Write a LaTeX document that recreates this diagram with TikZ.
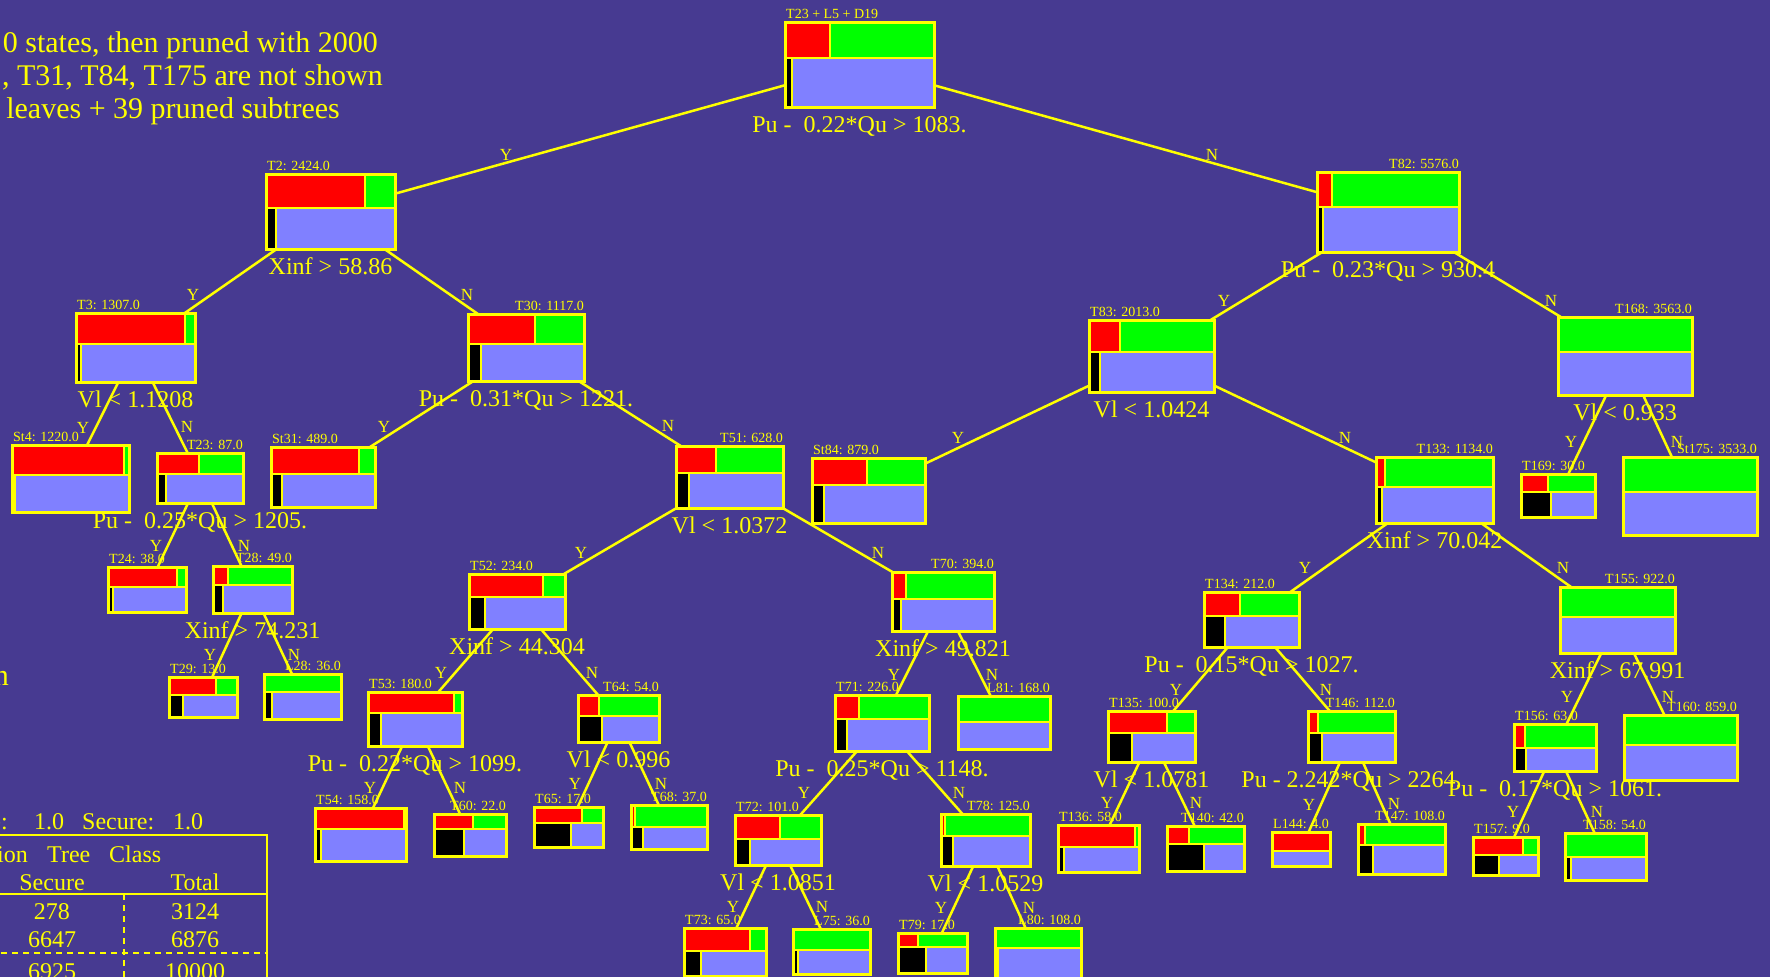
\documentclass[tikz,border=0pt]{standalone}
\usepackage{fontspec}
\setmainfont{Liberation Serif}
\definecolor{bg}{RGB}{71,58,145}
\definecolor{cyel}{RGB}{255,255,0}
\definecolor{cred}{RGB}{255,0,0}
\definecolor{cgreen}{RGB}{0,255,0}
\definecolor{clav}{RGB}{128,128,255}
\newcommand\condfont{\fontsize{24}{28}\selectfont}
\newcommand\ttlfont{\fontsize{14}{16}\selectfont}
\newcommand\ynfont{\fontsize{17}{20}\selectfont}
\newcommand\bigfont{\fontsize{30}{33}\selectfont}
% \treebox{name}{x1}{y1}{x2}{y2}{red share}{black share}{top row share}
\newcommand\treebox[8]{%
  \pgfmathsetmacro\tbw{#4-#2}%
  \pgfmathsetmacro\tbh{#5-#3}%
  \pgfmathsetmacro\tbys{#3+#8*\tbh}%
  \pgfmathsetmacro\tbxr{#2+#6*\tbw}%
  \pgfmathsetmacro\tbxb{#2+#7*\tbw}%
  \ifdim #6pt>0pt \draw[cell,fill=cred] (#2,#3) rectangle (\tbxr,\tbys);\fi
  \ifdim #6pt<1pt \draw[cell,fill=cgreen] (\tbxr,#3) rectangle (#4,\tbys);\fi
  \ifdim #7pt>0pt \draw[cell,fill=black] (#2,\tbys) rectangle (\tbxb,#5);\fi
  \draw[cell,fill=clav] (\tbxb,\tbys) rectangle (#4,#5);
  \node[frame,minimum width=\tbw pt,minimum height=\tbh pt] (#1) at ({(#2+#4)/2},{(#3+#5)/2}) {};
}
\begin{document}
\begin{tikzpicture}[x=1pt,y=-1pt,
  cell/.style={draw=cyel,line width=2pt},
  frame/.style={draw=cyel,line width=3pt,inner sep=0pt,outer sep=0pt,rectangle},
  edge/.style={draw=cyel,line width=2.5pt},
  ttlL/.style={font=\ttlfont,text=cyel,anchor=base west,inner sep=0pt,yshift=4pt,xshift=1pt},
  ttlR/.style={font=\ttlfont,text=cyel,anchor=base east,inner sep=0pt,yshift=4pt},
  cond/.style={font=\condfont,text=cyel,anchor=base,inner sep=0pt,yshift=-25pt},
  yn/.style={font=\ynfont,text=cyel,inner sep=0pt},
  txt/.style={font=\condfont,text=cyel,inner sep=0pt},
  big/.style={font=\bigfont,text=cyel,inner sep=0pt,anchor=base east},
  tline/.style={draw=cyel,line width=2.5pt},
  tdash/.style={draw=cyel,line width=2.5pt,dash pattern=on 6pt off 5pt}]
\useasboundingbox (0,0) rectangle (1770,977);
\fill[bg] (0,0) rectangle (1770,977);
\clip (0,0) rectangle (1770,977);

% heading text
\node[big] (h1) at (378,52) {0 states, then pruned with 2000};
\node[big] (h2) at (383,85) {, T31, T84, T175 are not shown};
\node[big] (h3) at (340,118) {leaves + 39 pruned subtrees};
\node[big] (h4) at (9,685) {n};

% summary table
\node[txt,anchor=base east] (s1) at (8,829) {e:};
\node[txt,anchor=base west] (s2) at (34,829) {1.0};
\node[txt,anchor=base west] (s3) at (82,829) {Secure:};
\node[txt,anchor=base west] (s4) at (173,829) {1.0};
\draw[tline] (-10,835) -- (267,835) -- (267,990);
\draw[tline] (-10,894) -- (267,894);
\draw[tdash] (-10,953) -- (267,953);
\draw[tdash] (124,894) -- (124,990);
\node[txt,anchor=base east] (c1) at (28,862) {ion};
\node[txt,anchor=base west] (c2) at (47,862) {Tree};
\node[txt,anchor=base west] (c3) at (109,862) {Class};
\node[txt,anchor=base] (c4) at (52,890) {Secure};
\node[txt,anchor=base] (c5) at (195,890) {Total};
\node[txt,anchor=base] (c6) at (52,919) {278};
\node[txt,anchor=base] (c7) at (195,919) {3124};
\node[txt,anchor=base] (c8) at (52,947) {6647};
\node[txt,anchor=base] (c9) at (195,947) {6876};
\node[txt,anchor=base] (c10) at (52,979) {6925};
\node[txt,anchor=base] (c11) at (195,979) {10000};

% tree boxes
\treebox{root}{785}{22}{934}{107}{0.30}{0.047}{0.42}
\treebox{T2}{266}{174}{395}{249}{0.77}{0.08}{0.45}
\treebox{T82}{1317}{172}{1459}{252}{0.105}{0.042}{0.44}
\treebox{T3}{76}{313}{195}{382}{0.92}{0.04}{0.45}
\treebox{T30}{468}{314}{584}{381}{0.58}{0.114}{0.45}
\treebox{T83}{1089}{320}{1214}{392}{0.25}{0.086}{0.44}
\treebox{T168}{1558}{317}{1692}{395}{0}{0}{0.45}
\treebox{St4}{12}{445}{129}{512}{0.957}{0.025}{0.45}
\treebox{T23}{157}{453}{243}{503}{0.49}{0.11}{0.42}
\treebox{St31}{271}{447}{375}{507}{0.85}{0.11}{0.45}
\treebox{T51}{676}{446}{783}{508}{0.37}{0.12}{0.43}
\treebox{St84}{812}{458}{925}{523}{0.485}{0.11}{0.42}
\treebox{T133}{1376}{457}{1493}{523}{0.08}{0.055}{0.45}
\treebox{T169}{1521}{474}{1595}{517}{0.37}{0.40}{0.42}
\treebox{St175}{1623}{457}{1757}{535}{0}{0}{0.45}
\treebox{T24}{108}{567}{186}{612}{0.88}{0.07}{0.44}
\treebox{T28}{213}{566}{292}{613}{0.19}{0.13}{0.40}
\treebox{T52}{469}{574}{565}{629}{0.77}{0.17}{0.42}
\treebox{T70}{892}{572}{994}{631}{0.14}{0.09}{0.46}
\treebox{T134}{1204}{592}{1299}{647}{0.38}{0.22}{0.44}
\treebox{T155}{1560}{587}{1675}{653}{0}{0}{0.45}
\treebox{T29}{169}{677}{237}{717}{0.69}{0.20}{0.45}
\treebox{L28}{264}{674}{341}{719}{0}{0.10}{0.40}
\treebox{T53}{368}{692}{462}{746}{0.91}{0.137}{0.39}
\treebox{T64}{578}{695}{659}{742}{0.26}{0.30}{0.45}
\treebox{T71}{835}{695}{929}{751}{0.26}{0.13}{0.43}
\treebox{L81}{958}{696}{1050}{749}{0}{0}{0.49}
\treebox{T135}{1108}{711}{1195}{762}{0.68}{0.28}{0.43}
\treebox{T146}{1308}{711}{1395}{762}{0.12}{0.165}{0.43}
\treebox{T156}{1514}{724}{1596}{771}{0.135}{0.15}{0.50}
\treebox{T160}{1624}{715}{1737}{780}{0}{0}{0.46}
\treebox{T54}{315}{808}{406}{861}{0.98}{0.07}{0.39}
\treebox{T60}{434}{814}{506}{856}{0.54}{0.41}{0.36}
\treebox{T65}{534}{807}{603}{847}{0.70}{0.54}{0.40}
\treebox{T68}{631}{805}{707}{849}{0.05}{0.16}{0.50}
\treebox{T72}{735}{815}{821}{865}{0.52}{0.17}{0.48}
\treebox{T78}{941}{814}{1030}{866}{0.04}{0.13}{0.42}
\treebox{T136}{1058}{825}{1139}{872}{0.95}{0.08}{0.47}
\treebox{T140}{1167}{826}{1244}{871}{0.29}{0.48}{0.40}
\treebox{L144}{1272}{832}{1330}{866}{1}{0}{0.55}
\treebox{T147}{1358}{824}{1445}{874}{0.08}{0.17}{0.42}
\treebox{T157}{1473}{837}{1538}{875}{0.77}{0.40}{0.47}
\treebox{T158}{1565}{833}{1646}{880}{0}{0.08}{0.50}
\treebox{T73}{684}{928}{766}{976}{0.81}{0.21}{0.48}
\treebox{L75}{793}{929}{870}{974}{0}{0.06}{0.47}
\treebox{T79}{898}{933}{967}{973}{0.29}{0.40}{0.35}
\treebox{L80}{995}{928}{1081}{983}{0}{0.04}{0.37}

% box titles
\node[ttlL] (root-t) at (root.north west) {T23 + L5 + D19};
\node[ttlL] (T2-t) at (T2.north west) {T2: 2424.0};
\node[ttlR] (T82-t) at (T82.north east) {T82: 5576.0};
\node[ttlL] (T3-t) at (T3.north west) {T3: 1307.0};
\node[ttlR] (T30-t) at (T30.north east) {T30: 1117.0};
\node[ttlL] (T83-t) at (T83.north west) {T83: 2013.0};
\node[ttlR] (T168-t) at (T168.north east) {T168: 3563.0};
\node[ttlL] (St4-t) at (St4.north west) {St4: 1220.0};
\node[ttlR] (T23-t) at (T23.north east) {T23: 87.0};
\node[ttlL] (St31-t) at (St31.north west) {St31: 489.0};
\node[ttlR] (T51-t) at (T51.north east) {T51: 628.0};
\node[ttlL] (St84-t) at (St84.north west) {St84: 879.0};
\node[ttlR] (T133-t) at (T133.north east) {T133: 1134.0};
\node[ttlL] (T169-t) at (T169.north west) {T169: 30.0};
\node[ttlR] (St175-t) at (St175.north east) {St175: 3533.0};
\node[ttlL] (T24-t) at (T24.north west) {T24: 38.0};
\node[ttlR] (T28-t) at (T28.north east) {T28: 49.0};
\node[ttlL] (T52-t) at (T52.north west) {T52: 234.0};
\node[ttlR] (T70-t) at (T70.north east) {T70: 394.0};
\node[ttlL] (T134-t) at (T134.north west) {T134: 212.0};
\node[ttlR] (T155-t) at (T155.north east) {T155: 922.0};
\node[ttlL] (T29-t) at (T29.north west) {T29: 13.0};
\node[ttlR] (L28-t) at (L28.north east) {L28: 36.0};
\node[ttlL] (T53-t) at (T53.north west) {T53: 180.0};
\node[ttlR] (T64-t) at (T64.north east) {T64: 54.0};
\node[ttlL] (T71-t) at (T71.north west) {T71: 226.0};
\node[ttlR] (L81-t) at (L81.north east) {L81: 168.0};
\node[ttlL] (T135-t) at (T135.north west) {T135: 100.0};
\node[ttlR] (T146-t) at (T146.north east) {T146: 112.0};
\node[ttlL] (T156-t) at (T156.north west) {T156: 63.0};
\node[ttlR] (T160-t) at (T160.north east) {T160: 859.0};
\node[ttlL] (T54-t) at (T54.north west) {T54: 158.0};
\node[ttlR] (T60-t) at (T60.north east) {T60: 22.0};
\node[ttlL] (T65-t) at (T65.north west) {T65: 17.0};
\node[ttlR] (T68-t) at (T68.north east) {T68: 37.0};
\node[ttlL] (T72-t) at (T72.north west) {T72: 101.0};
\node[ttlR] (T78-t) at (T78.north east) {T78: 125.0};
\node[ttlL] (T136-t) at (T136.north west) {T136: 58.0};
\node[ttlR] (T140-t) at (T140.north east) {T140: 42.0};
\node[ttlL] (L144-t) at (L144.north west) {L144: 4.0};
\node[ttlR] (T147-t) at (T147.north east) {T147: 108.0};
\node[ttlL] (T157-t) at (T157.north west) {T157: 9.0};
\node[ttlR] (T158-t) at (T158.north east) {T158: 54.0};
\node[ttlL] (T73-t) at (T73.north west) {T73: 65.0};
\node[ttlR] (L75-t) at (L75.north east) {L75: 36.0};
\node[ttlL] (T79-t) at (T79.north west) {T79: 17.0};
\node[ttlR] (L80-t) at (L80.north east) {L80: 108.0};

% branches
\draw[edge] (root) -- (T2);   \draw[edge] (root) -- (T82);
\draw[edge] (T2) -- (T3);     \draw[edge] (T2) -- (T30);
\draw[edge] (T82) -- (T83);   \draw[edge] (T82) -- (T168);
\draw[edge] (T3) -- (St4);    \draw[edge] (T3) -- (T23);
\draw[edge] (T30) -- (St31);  \draw[edge] (T30) -- (T51);
\draw[edge] (T83) -- (St84);  \draw[edge] (T83) -- (T133);
\draw[edge] (T168) -- (T169); \draw[edge] (T168) -- (St175);
\draw[edge] (T23) -- (T24);   \draw[edge] (T23) -- (T28);
\draw[edge] (T51) -- (T52);   \draw[edge] (T51) -- (T70);
\draw[edge] (T133) -- (T134); \draw[edge] (T133) -- (T155);
\draw[edge] (T28) -- (T29);   \draw[edge] (T28) -- (L28);
\draw[edge] (T52) -- (T53);   \draw[edge] (T52) -- (T64);
\draw[edge] (T70) -- (T71);   \draw[edge] (T70) -- (L81);
\draw[edge] (T134) -- (T135); \draw[edge] (T134) -- (T146);
\draw[edge] (T155) -- (T156); \draw[edge] (T155) -- (T160);
\draw[edge] (T53) -- (T54);   \draw[edge] (T53) -- (T60);
\draw[edge] (T64) -- (T65);   \draw[edge] (T64) -- (T68);
\draw[edge] (T71) -- (T72);   \draw[edge] (T71) -- (T78);
\draw[edge] (T135) -- (T136); \draw[edge] (T135) -- (T140);
\draw[edge] (T146) -- (L144); \draw[edge] (T146) -- (T147);
\draw[edge] (T156) -- (T157); \draw[edge] (T156) -- (T158);
\draw[edge] (T72) -- (T73);   \draw[edge] (T72) -- (L75);
\draw[edge] (T78) -- (T79);   \draw[edge] (T78) -- (L80);

% branch answers
\node[yn] (y1) at (506,155) {Y};   \node[yn] (n1) at (1212,155) {N};
\node[yn] (y2) at (193,295) {Y};   \node[yn] (n2) at (467,295) {N};
\node[yn] (y3) at (1224,301) {Y};  \node[yn] (n3) at (1551,301) {N};
\node[yn] (y4) at (83,428) {Y};    \node[yn] (n4) at (187,427) {N};
\node[yn] (y5) at (384,427) {Y};   \node[yn] (n5) at (668,426) {N};
\node[yn] (y6) at (958,438) {Y};   \node[yn] (n6) at (1345,438) {N};
\node[yn] (y7) at (1571,442) {Y};  \node[yn] (n7) at (1677,442) {N};
\node[yn] (y8) at (156,546) {Y};   \node[yn] (n8) at (244,546) {N};
\node[yn] (y9) at (581,553) {Y};   \node[yn] (n9) at (878,553) {N};
\node[yn] (y10) at (1305,568) {Y}; \node[yn] (n10) at (1563,568) {N};
\node[yn] (y11) at (210,655) {Y};  \node[yn] (n11) at (294,655) {N};
\node[yn] (y12) at (441,673) {Y};  \node[yn] (n12) at (592,673) {N};
\node[yn] (y13) at (894,675) {Y};  \node[yn] (n13) at (992,675) {N};
\node[yn] (y14) at (1176,690) {Y}; \node[yn] (n14) at (1326,690) {N};
\node[yn] (y15) at (1567,697) {Y}; \node[yn] (n15) at (1668,697) {N};
\node[yn] (y16) at (370,788) {Y};  \node[yn] (n16) at (460,788) {N};
\node[yn] (y17) at (575,784) {Y};  \node[yn] (n17) at (661,784) {N};
\node[yn] (y18) at (804,793) {Y};  \node[yn] (n18) at (959,793) {N};
\node[yn] (y19) at (1107,803) {Y}; \node[yn] (n19) at (1196,803) {N};
\node[yn] (y20) at (1309,805) {Y}; \node[yn] (n20) at (1394,804) {N};
\node[yn] (y21) at (1513,812) {Y}; \node[yn] (n21) at (1597,812) {N};
\node[yn] (y22) at (733,907) {Y};  \node[yn] (n22) at (822,907) {N};
\node[yn] (y23) at (941,908) {Y};  \node[yn] (n23) at (1029,908) {N};

% split tests
\node[cond] (root-c) at (root.south) {Pu -~~0.22*Qu > 1083.};
\node[cond] (T2-c) at (T2.south) {Xinf > 58.86};
\node[cond] (T82-c) at (T82.south) {Pu -~~0.23*Qu > 930.4};
\node[cond] (T3-c) at (T3.south) {Vl < 1.1208};
\node[cond] (T30-c) at (T30.south) {Pu -~~0.31*Qu > 1221.};
\node[cond] (T83-c) at (T83.south) {Vl < 1.0424};
\node[cond] (T168-c) at (T168.south) {Vl < 0.933};
\node[cond] (T23-c) at (T23.south) {Pu -~~0.25*Qu > 1205.};
\node[cond] (T51-c) at (T51.south) {Vl < 1.0372};
\node[cond] (T133-c) at (T133.south) {Xinf > 70.042};
\node[cond] (T28-c) at (T28.south) {Xinf > 74.231};
\node[cond] (T52-c) at (T52.south) {Xinf > 44.304};
\node[cond] (T70-c) at (T70.south) {Xinf > 49.821};
\node[cond] (T134-c) at (T134.south) {Pu -~~0.15*Qu > 1027.};
\node[cond] (T155-c) at (T155.south) {Xinf > 67.991};
\node[cond] (T53-c) at (T53.south) {Pu -~~0.22*Qu > 1099.};
\node[cond] (T64-c) at (T64.south) {Vl < 0.996};
\node[cond] (T71-c) at (T71.south) {Pu -~~0.25*Qu > 1148.};
\node[cond] (T135-c) at (T135.south) {Vl < 1.0781};
\node[cond] (T146-c) at (T146.south) {Pu - 2.242*Qu > 2264.};
\node[cond] (T156-c) at (T156.south) {Pu -~~0.17*Qu > 1061.};
\node[cond] (T72-c) at (T72.south) {Vl < 1.0851};
\node[cond] (T78-c) at (T78.south) {Vl < 1.0529};
\end{tikzpicture}
\end{document}
